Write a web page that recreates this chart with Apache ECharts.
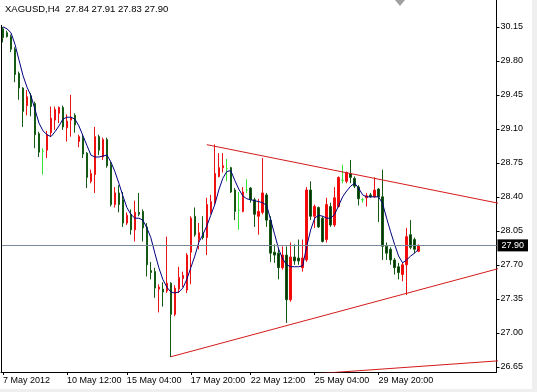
<!DOCTYPE html>
<html>
<head>
<meta charset="utf-8">
<script src="https://cdn.jsdelivr.net/npm/echarts@6/dist/echarts.min.js"></script>
<style>
html,body{margin:0;padding:0;background:#fff;}
#c{width:537px;height:392px;}
</style>
</head>
<body>
<div id="c"></div>
<script>
// Candles: [open, close, low, high]
var candles = [
[30.13,30.04,29.99,30.15],[30.09,30.05,30.04,30.11],[30.05,29.92,29.89,30.07],[29.92,29.66,29.58,29.94],
[29.67,29.52,29.40,29.69],[29.52,29.28,29.12,29.53],[29.34,29.43,29.24,29.50],[29.44,29.33,29.23,29.47],
[29.36,29.04,28.90,29.38],[29.05,28.86,28.81,29.07],[28.87,28.87,28.63,28.90],[28.88,29.04,28.80,29.08],
[29.06,29.21,29.02,29.33],[29.19,29.30,29.09,29.33],[29.26,29.32,29.16,29.33],[29.32,29.12,29.09,29.34],
[29.11,29.18,28.97,29.25],[29.19,29.22,29.02,29.45],[29.24,29.14,29.06,29.26],[28.97,29.02,28.91,29.04],
[29.01,28.84,28.80,29.04],[28.85,28.60,28.49,28.86],[28.56,28.64,28.54,28.68],[28.63,29.02,28.44,29.12],
[29.02,28.88,28.83,29.04],[28.81,28.99,28.78,29.01],[28.99,28.72,28.70,29.01],[28.73,28.32,28.30,28.76],
[28.32,28.44,28.29,28.50],[28.44,28.32,28.24,28.52],[28.37,28.13,28.09,28.45],[28.13,28.21,28.11,28.24],
[28.22,28.06,28.01,28.27],[28.06,28.24,27.94,28.36],[28.24,28.22,28.20,28.44],[28.25,28.08,27.94,28.27],
[28.09,27.70,27.58,28.13],[27.64,27.62,27.55,27.73],[27.63,27.46,27.36,27.67],[27.45,27.47,27.21,27.50],
[27.45,27.42,27.27,27.52],[27.43,27.51,27.41,27.99],[27.51,27.19,26.75,27.52],[27.19,27.46,27.17,27.49],
[27.45,27.57,27.41,27.68],[27.56,27.59,27.47,27.63],[27.44,27.80,27.41,27.82],[27.83,28.18,27.50,28.20],
[28.20,28.01,27.99,28.29],[27.96,28.03,27.86,28.13],[28.03,27.98,27.96,28.20],[27.98,28.32,27.80,28.39],
[28.24,28.35,28.22,28.42],[28.34,28.64,28.32,28.94],[28.61,28.70,28.60,28.85],[28.70,28.72,28.65,28.85],
[28.69,28.69,28.56,28.79],[28.70,28.45,28.44,28.71],[28.47,28.25,28.16,28.49],[28.26,28.26,28.06,28.45],
[28.25,28.45,28.24,28.50],[28.47,28.47,28.44,28.58],[28.49,28.37,28.34,28.50],[28.37,28.22,28.09,28.39],
[28.20,28.25,28.01,28.38],[28.24,28.44,28.22,28.80],[28.42,28.16,28.09,28.44],[28.16,27.82,27.73,28.20],
[27.83,27.80,27.72,27.91],[27.82,27.67,27.55,27.86],[27.67,27.80,27.65,27.89],[27.80,27.34,27.10,27.89],
[27.34,27.78,27.32,27.93],[27.78,27.74,27.70,27.91],[27.77,27.74,27.70,27.96],[27.67,27.77,27.63,27.96],
[27.75,28.47,27.73,28.50],[28.47,28.20,28.16,28.56],[28.20,28.30,28.08,28.32],[28.29,28.09,28.08,28.30],
[28.18,27.94,27.93,28.20],[27.96,28.32,27.93,28.39],[28.30,28.11,28.09,28.34],[28.11,28.39,28.09,28.50],
[28.30,28.60,28.29,28.61],[28.57,28.57,28.54,28.73],[28.56,28.65,28.54,28.66],[28.64,28.60,28.54,28.78],
[28.59,28.51,28.49,28.61],[28.50,28.38,28.31,28.52],[28.37,28.37,28.34,28.39],[28.39,28.41,28.30,28.44],
[28.42,28.40,28.39,28.44],[28.40,28.47,28.39,28.60],[28.48,28.40,28.14,28.49],[28.40,27.89,27.75,28.68],
[27.89,27.82,27.75,27.93],[27.86,27.75,27.70,27.88],[27.75,27.67,27.60,27.77],[27.68,27.62,27.55,27.72],
[27.60,27.70,27.53,27.72],[27.70,27.99,27.39,28.08],[28.01,27.88,27.86,28.16],[27.96,27.86,27.82,27.98],
[27.84,27.90,27.83,27.91]
];

// Moving average line values
var maValues = [
30.15,30.13,30.09,29.97,29.81,29.65,29.53,29.44,29.30,29.16,
29.08,29.04,29.02,29.07,29.13,29.20,29.22,29.22,29.20,29.13,
29.03,28.93,28.83,28.81,28.81,28.82,28.83,28.76,28.66,28.54,
28.41,28.29,28.22,28.18,28.18,28.16,28.08,27.98,27.82,27.67,
27.55,27.47,27.42,27.41,27.42,27.46,27.55,27.67,27.79,27.93,
28.01,28.10,28.21,28.32,28.47,28.59,28.66,28.67,28.57,28.48,
28.41,28.38,28.37,28.36,28.35,28.34,28.31,28.16,28.01,27.86,
27.76,27.70,27.68,27.68,27.68,27.69,27.89,28.06,28.18,28.21,
28.20,28.18,28.18,28.22,28.31,28.40,28.46,28.51,28.54,28.49,
28.42,28.40,28.40,28.40,28.40,28.33,28.18,28.04,27.91,27.79,
27.72,27.75,27.79,27.82,27.86
];

// Trend lines: [barIndex, price] anchors
var trendUpper = [[51, 28.937], [124, 28.334]];
var trendLower = [[42, 26.753], [124, 27.661]];
var trendBottom = [[70, 26.554], [124, 26.711]];

var bidPrice = 27.90;
var titleText = 'XAGUSD,H4  27.84 27.91 27.83 27.90';

var slotCount = 124;
var yTickValues = [26.65, 27.00, 27.35, 27.70, 28.05, 28.40, 28.75, 29.10, 29.45, 29.80, 30.15];
var xTickIndex = [0, 16, 31, 47, 62, 78, 94];
var xTickLabels = ['7 May 2012', '10 May 12:00', '15 May 04:00', '17 May 20:00', '22 May 12:00', '25 May 04:00', '29 May 20:00'];

var categories = [];
for (var i = 0; i < slotCount; i++) categories.push(String(i));

var FONT = '"Liberation Sans", Arial, sans-serif';

var chart = echarts.init(document.getElementById('c'), null, {renderer: 'canvas'});
chart.setOption({
  animation: false,
  backgroundColor: '#ffffff',
  grid: {left: 0.5, right: 40.5, top: 0, bottom: 20, containLabel: false},
  xAxis: {
    type: 'category',
    data: categories,
    boundaryGap: true,
    axisLine: {show: true, lineStyle: {color: '#000', width: 1}},
    axisTick: {show: true, alignWithLabel: true, length: 3, lineStyle: {color: '#000'},
      interval: function (idx) { return xTickIndex.indexOf(idx) >= 0; }},
    axisLabel: {
      show: true, margin: 4, align: 'left', color: '#000', fontSize: 9, fontFamily: FONT,
      interval: function (idx) { return xTickIndex.indexOf(idx) >= 0; },
      formatter: function (v, idx) { var k = xTickIndex.indexOf(idx); return k >= 0 ? xTickLabels[k] : ''; }
    },
    splitLine: {show: false}
  },
  yAxis: {
    type: 'value',
    position: 'right',
    min: 26.596,
    max: 30.427,
    scale: true,
    axisLine: {show: true, onZero: false, lineStyle: {color: '#000', width: 1}},
    axisTick: {show: true, length: 3, lineStyle: {color: '#000'}, customValues: yTickValues},
    axisLabel: {show: true, margin: 4, color: '#000', fontSize: 9, fontFamily: FONT,
      customValues: yTickValues,
      formatter: function (v) { return v.toFixed(2); }},
    splitLine: {show: false}
  },
  series: [
    {
      type: 'candlestick',
      data: candles,
      barWidth: 2,
      itemStyle: {
        color: '#ff0000', color0: '#0a2e0a',
        borderColor: '#ee1111', borderColor0: '#145a14',
        borderColorDoji: '#33e033',
        borderWidth: 1
      },
      markLine: {
        silent: true,
        symbol: ['none', 'none'],
        animation: false,
        lineStyle: {color: '#778899', width: 1, type: 'solid'},
        label: {
          show: true, position: 'end', distance: 1,
          backgroundColor: '#000', color: '#fff', padding: [2, 4, 1, 4],
          fontSize: 9, fontFamily: FONT,
          formatter: function (p) { return p.value.toFixed(2); }
        },
        data: [{yAxis: bidPrice}]
      },
      z: 2
    },
    {
      type: 'line', data: maValues, symbol: 'none', smooth: false,
      lineStyle: {color: '#000080', width: 1}, z: 3, silent: true
    },
    {
      type: 'line', data: trendUpper, symbol: 'none', clip: true,
      lineStyle: {color: '#d41a1a', width: 1}, z: 3, silent: true
    },
    {
      type: 'line', data: trendLower, symbol: 'none', clip: true,
      lineStyle: {color: '#d41a1a', width: 1}, z: 3, silent: true
    },
    {
      type: 'line', data: trendBottom, symbol: 'none', clip: true,
      lineStyle: {color: '#d41a1a', width: 1}, z: 3, silent: true
    }
  ],
  graphic: [
    {type: 'text', left: 5, top: 4, z: 10,
      style: {text: titleText, fill: '#000', font: '9.5px ' + FONT}},
    {type: 'line', shape: {x1: 1.5, y1: 25, x2: 1.5, y2: 372}, style: {stroke: '#000', lineWidth: 1}, z: 10},
    {type: 'polygon', shape: {points: [[395, 0], [405, 0], [400, 6]]}, style: {fill: '#a0a0a0'}, z: 10},
    {type: 'rect', shape: {x: 532, y: 0, width: 5, height: 392}, style: {fill: '#efefef'}, z: -1},
    {type: 'rect', shape: {x: 0, y: 389, width: 537, height: 3}, style: {fill: '#efefef'}, z: -1}
  ]
});
</script>
</body>
</html>
